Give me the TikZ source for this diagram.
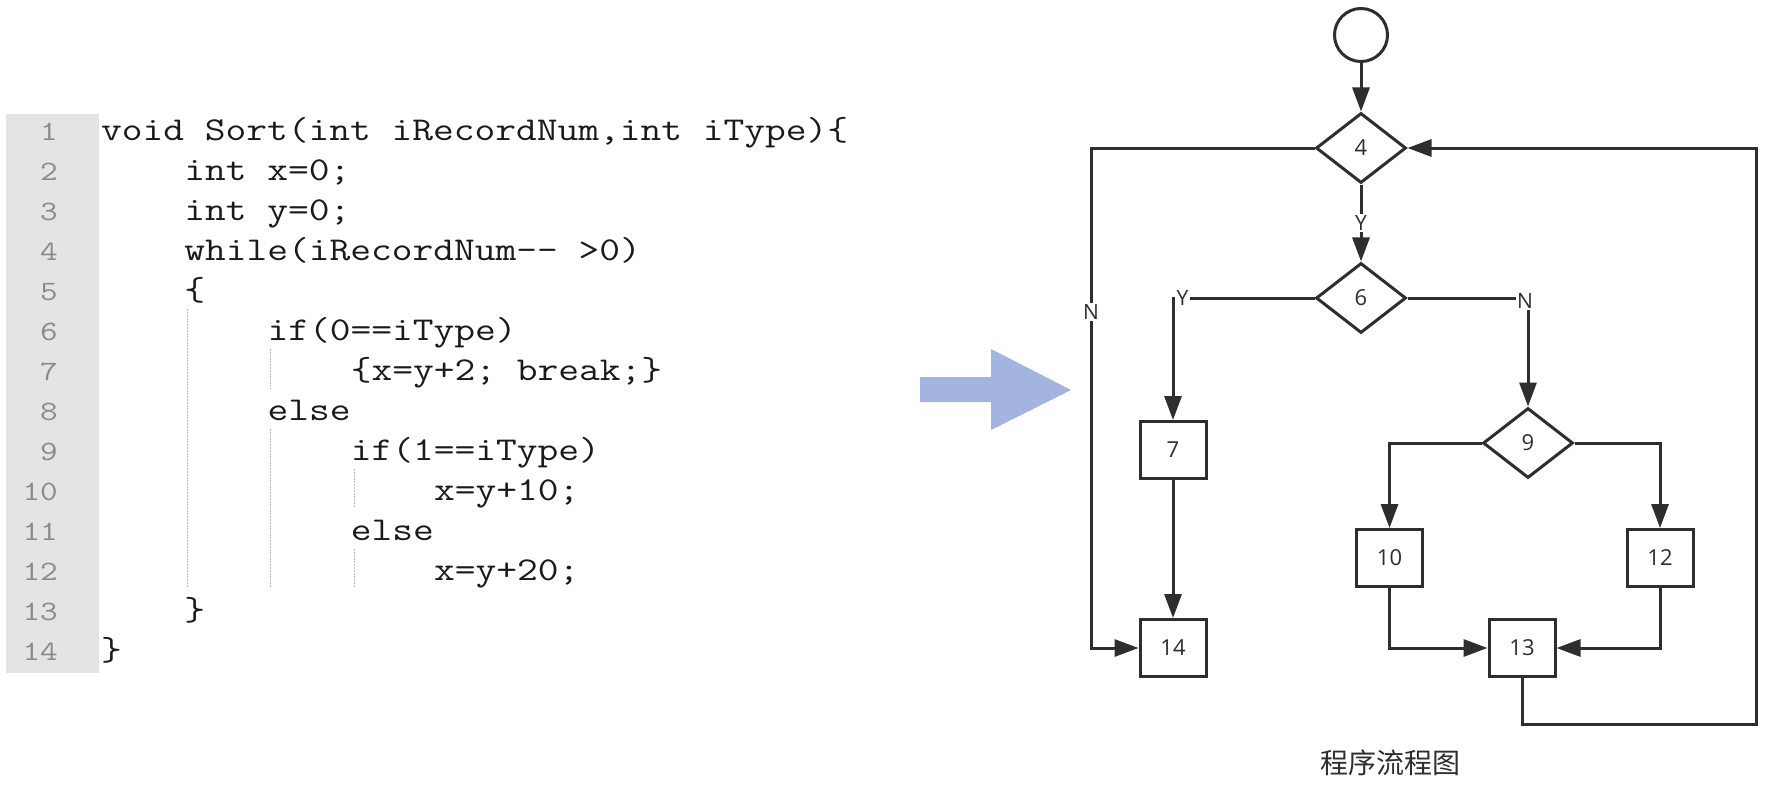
\documentclass[tikz,border=0pt]{standalone}
\usepackage{fontspec}
\usepackage{graphicx}
\setmainfont{Open Sans}
\newfontfamily\cjkfont{Noto Sans CJK SC}
\usetikzlibrary{arrows.meta,shapes.geometric}
\definecolor{guttergray}{HTML}{E4E4E4}
\definecolor{numgray}{HTML}{8A8A8A}
\definecolor{codeink}{HTML}{1A1A1A}
\definecolor{guidegray}{HTML}{BDBDBD}
\definecolor{flowink}{HTML}{2E2E2E}
\definecolor{arrowblue}{HTML}{A3B5DE}
\newcommand{\codetxt}[1]{\scalebox{1.21}[1]{\ttfamily\fontsize{33.3}{40}\selectfont #1}}
\newcommand{\numtxt}[1]{\scalebox{1.22}[1]{\ttfamily\fontsize{28}{40}\selectfont #1}}
\tikzset{
  codeline/.style={anchor=base west,inner sep=0pt,text=codeink},
  linenum/.style={anchor=base east,inner sep=0pt,text=numgray},
  guide/.style={draw=guidegray,line width=1pt,dash pattern=on 1.5pt off 1.5pt},
  fbox/.style={draw=flowink,line width=3pt,rectangle,minimum width=66pt,minimum height=57pt,inner sep=0pt,text=flowink,font=\fontsize{22}{22}\selectfont},
  fdec/.style={draw=flowink,line width=3pt,diamond,minimum width=90pt,minimum height=70pt,inner sep=0pt,text=flowink,font=\fontsize{22}{22}\selectfont},
  fstart/.style={draw=flowink,line width=3pt,circle,minimum size=53pt,inner sep=0pt},
  arr/.style={draw=flowink,line width=3pt,-{Triangle[length=24pt,width=17pt]}},
  lbl/.style={fill=white,inner sep=1.5pt,text=flowink,font=\fontsize{21}{21}\selectfont}
}
\begin{document}
\begin{tikzpicture}[x=1pt,y=-1pt]
\useasboundingbox (0,0) rectangle (1782,789);
\fill[white] (0,0) rectangle (1782,789);

% ---------- code panel ----------
\fill[guttergray] (6,114) rectangle (99,673);
\node[linenum] (n1)  at (58,140) {\numtxt{1}};
\node[linenum] (n2)  at (58,180) {\numtxt{2}};
\node[linenum] (n3)  at (58,220) {\numtxt{3}};
\node[linenum] (n4)  at (58,260) {\numtxt{4}};
\node[linenum] (n5)  at (58,300) {\numtxt{5}};
\node[linenum] (n6)  at (58,340) {\numtxt{6}};
\node[linenum] (n7)  at (58,380) {\numtxt{7}};
\node[linenum] (n8)  at (58,420) {\numtxt{8}};
\node[linenum] (n9)  at (58,460) {\numtxt{9}};
\node[linenum] (n10) at (58,500) {\numtxt{10}};
\node[linenum] (n11) at (58,540) {\numtxt{11}};
\node[linenum] (n12) at (58,580) {\numtxt{12}};
\node[linenum] (n13) at (58,620) {\numtxt{13}};
\node[linenum] (n14) at (58,660) {\numtxt{14}};

\node[codeline] (c1)  at (101,140)   {\codetxt{void Sort(int iRecordNum,int iType)\{}};
\node[codeline] (c2)  at (184.2,180) {\codetxt{int x=0;}};
\node[codeline] (c3)  at (184.2,220) {\codetxt{int y=0;}};
\node[codeline] (c4)  at (184.2,260) {\codetxt{while(iRecordNum-{}- >0)}};
\node[codeline] (c5)  at (184.2,300) {\codetxt{\{}};
\node[codeline] (c6)  at (267.4,340) {\codetxt{if(0==iType)}};
\node[codeline] (c7)  at (350.6,380) {\codetxt{\{x=y+2; break;\}}};
\node[codeline] (c8)  at (267.4,420) {\codetxt{else}};
\node[codeline] (c9)  at (350.6,460) {\codetxt{if(1==iType)}};
\node[codeline] (c10) at (433.8,500) {\codetxt{x=y+10;}};
\node[codeline] (c11) at (350.6,540) {\codetxt{else}};
\node[codeline] (c12) at (433.8,580) {\codetxt{x=y+20;}};
\node[codeline] (c13) at (184.2,620) {\codetxt{\}}};
\node[codeline] (c14) at (101,660)   {\codetxt{\}}};

% indentation guides
\draw[guide] (187.3,309) -- (187.3,588);
\draw[guide] (270.6,349) -- (270.6,389);
\draw[guide] (270.6,429) -- (270.6,588);
\draw[guide] (354,469) -- (354,508);
\draw[guide] (354,549) -- (354,588);

% ---------- big arrow ----------
\fill[arrowblue] (920,377) -- (991,377) -- (991,349) -- (1071,390) -- (991,430) -- (991,402) -- (920,402) -- cycle;

% ---------- flowchart ----------
\node[fstart] (start) at (1361,35) {};
\node[fdec] (d4) at (1361,148) {4};
\node[fdec] (d6) at (1361,298) {6};
\node[fdec] (d9) at (1528,443) {9};
\node[fbox] (b7)  at (1173,450) {7};
\node[fbox] (b14) at (1173,648) {14};
\node[fbox] (b10) at (1389.5,558) {10};
\node[fbox] (b12) at (1660,558) {12};
\node[fbox] (b13) at (1522,648) {13};

\coordinate (lt) at (1091,148);
\coordinate (lb) at (1091,648);
\coordinate (rb) at (1756,724);
\coordinate (rt) at (1756,148);

\draw[arr] (start) -- (d4);
\draw[arr] (d4) -- node[lbl,pos=0.5]{Y} (d6);
\draw[arr] (d4.west) -- (lt) -- node[lbl,pos=0.328]{N} (lb) -- (b14.west);
\draw[arr] (d6.west) -| (b7.north);
\node[lbl,anchor=west] (ly) at (1175,298) {Y};
\draw[arr] (d6.east) -| (d9.north);
\node[lbl] (ln) at (1525,301) {N};
\draw[arr] (b7) -- (b14);
\draw[arr] (d9.west) -| (b10.north);
\draw[arr] (d9.east) -| (b12.north);
\draw[arr] (b10.south) |- (b13.west);
\draw[arr] (b12.south) |- (b13.east);
\draw[arr] (b13.south) |- (rb) -- (rt) -- (d4.east);

\node[text=flowink,font=\cjkfont\fontsize{28}{28}\selectfont] (cap) at (1390,763) {程序流程图};
\end{tikzpicture}
\end{document}
